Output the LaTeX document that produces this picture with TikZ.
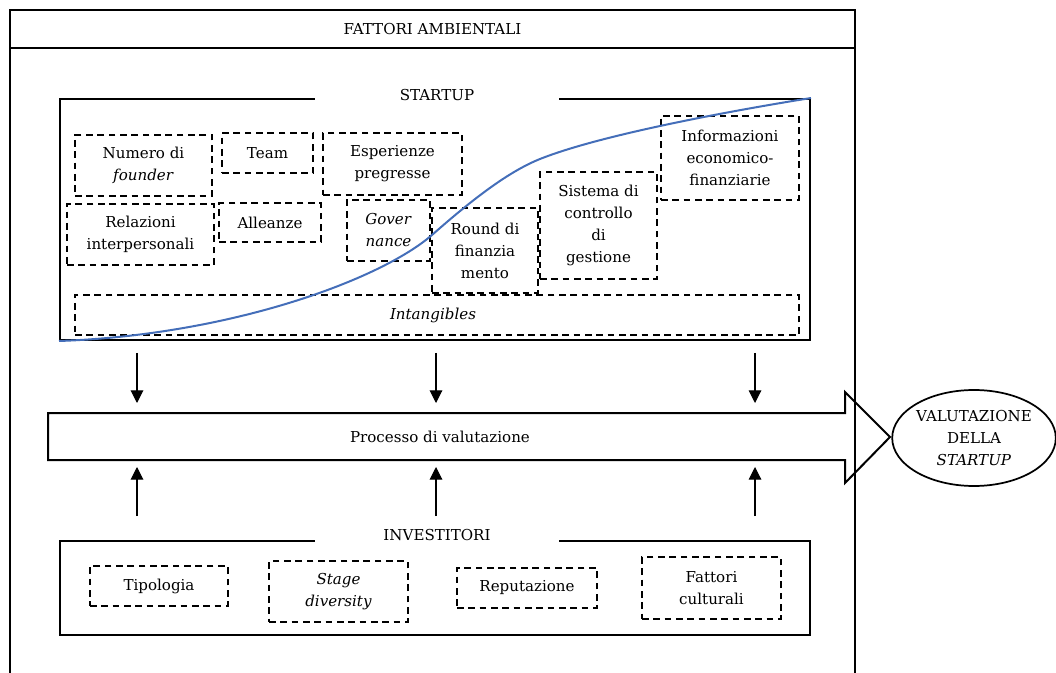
\documentclass[tikz,border=0pt]{standalone}
\usepackage{fontspec}
\setmainfont{DejaVu Serif}
\usetikzlibrary{fit,calc,arrows.meta,shapes.geometric}
\definecolor{curveblue}{RGB}{68,110,185}
\begin{document}
\begin{tikzpicture}[x=0.75pt,y=-0.75pt,
  every node/.style={font=\fontsize{11.3}{16.5}\selectfont, align=center, inner sep=0pt},
  dbox/.style={draw, line width=1.35pt, dash pattern=on 5pt off 3.5pt},
  sbox/.style={draw, line width=1.5pt},
  arr/.style={line width=0.8pt, -{Triangle[width=9.5pt,length=9.5pt]}},
  ttl/.style={fill=white, minimum width=183pt, minimum height=14pt},
  curve/.style={draw=curveblue, line width=1.5pt},
]
\useasboundingbox (0,0) rectangle (1056,673);
% outer frame
\draw[line width=1.5pt] (10,680) -- (10,10) -- (855,10) -- (855,680);
\node[fit={(10,10)(855,48)}] (env) {};
\node (envt) at (env.center) {FATTORI AMBIENTALI};
\draw[line width=1.5pt] (env.south west) -- (env.south east);

% startup block
\node[sbox, fit={(60,99)(810,340)}] (startup) {};
\node[ttl] (sttl) at (437,95) {STARTUP};
\node[dbox, fit={(75,135)(212,196)}] (nf) {};
\node (nft) at (nf.center) {Numero di\\\textit{founder}};
\node[dbox, fit={(222,133)(313,173)}] (team) {};
\node (teamt) at (team.center) {Team};
\node[dbox, fit={(323,133)(462,195)}] (esp) {};
\node (espt) at (esp.center) {Esperienze\\pregresse};
\node[dbox, fit={(67,204)(214,265)}] (rel) {};
\node (relt) at (rel.center) {Relazioni\\interpersonali};
\node[dbox, fit={(219,203)(321,242)}] (all) {};
\node (allt) at (all.center) {Alleanze};
\node[dbox, fit={(347,200)(430,261)}] (gov) {};
\node (govt) at (gov.center) {\textit{Gover}\\\textit{nance}};
\node[dbox, fit={(432,208)(538,293)}] (round) {};
\node (roundt) at (round.center) {Round di\\finanzia\\mento};
\node[dbox, fit={(540,172)(657,279)}] (sis) {};
\node (sist) at (sis.center) {Sistema di\\controllo\\di\\gestione};
\node[dbox, fit={(661,116)(799,200)}] (inf) {};
\node (inft) at (inf.center) {Informazioni\\economico-\\finanziarie};
\node[dbox, fit={(75,295)(799,335)}] (intang) {};
\node (intangt) at ([xshift=-3pt]intang.center) {\textit{Intangibles}};
\coordinate (cA) at (432,235);
\coordinate (cB) at (540,159);
\draw[curve] (startup.south west) .. controls (230,335) and (380,280) .. (cA)
  .. controls (475,197) and (510,171) .. (cB)
  .. controls (600,135) and (730,111) .. (startup.north east);

% process arrow
\draw[line width=1.5pt] (48,413) coordinate (ptop) -- (845,413) -- (845,392) -- (890,437) coordinate (ptip) -- (845,483) -- (845,460) -- (48,460) coordinate (pbot) -- cycle;
\node (proc) at (440,437) {Processo di valutazione};
\node[ellipse, draw, line width=1.3pt, minimum width=120pt, minimum height=72pt] (val) at (974,438) {VALUTAZIONE\\DELLA\\\textit{STARTUP}};

% investitori block
\node[sbox, fit={(60,541)(810,635)}] (inv) {};
\node[ttl] (ittl) at (437,535) {INVESTITORI};
\node[dbox, fit={(90,566)(228,606)}] (tip) {};
\node (tipt) at (tip.center) {Tipologia};
\node[dbox, fit={(269,561)(408,622)}] (stage) {};
\node (staget) at (stage.center) {\textit{Stage}\\\textit{diversity}};
\node[dbox, fit={(457,568)(597,608)}] (rep) {};
\node (rept) at (rep.center) {Reputazione};
\node[dbox, fit={(642,557)(781,619)}] (fatt) {};
\node (fattt) at (fatt.center) {Fattori\\culturali};

% arrows
\coordinate (x1) at (137,0);
\coordinate (x2) at (436,0);
\coordinate (x3) at (755,0);
\foreach \c in {x1,x2,x3}{
  \draw[arr] ($(startup.south -| \c)+(0,12)$) -- ($(ptop -| \c)+(0,-10)$);
  \draw[arr] ($(inv.north -| \c)+(0,-24)$) -- ($(pbot -| \c)+(0,7)$);
}
\end{tikzpicture}
\end{document}
